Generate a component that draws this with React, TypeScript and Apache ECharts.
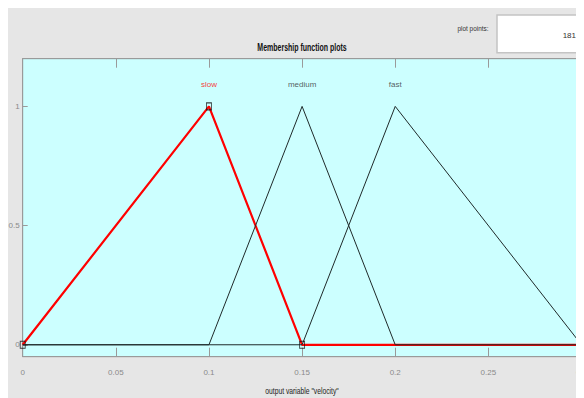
import React, { useEffect, useRef } from "react";
import * as echarts from "echarts";

const xTickValues = [0, 0.05, 0.1, 0.15, 0.2, 0.25, 0.3];
const yTickValues = [0, 0.5, 1];
const yTickLabels = ["0", "0.5", "1"];

const slowPoints = [[0, 0], [0.1, 1], [0.15, 0], [0.3, 0]];
const mediumPoints = [[0, 0], [0.1, 0], [0.15, 1], [0.2, 0], [0.3, 0]];
const fastPoints = [[0, 0], [0.15, 0], [0.2, 1], [0.3, 0]];
const slowVertices = [[0, 0], [0.1, 1], [0.15, 0]];

const mfNames = ["slow", "medium", "fast"];
const mfPeaks = [0.1, 0.15, 0.2];
const labelLevel = 1.09;

const titleText = "Membership function plots";
const xAxisName = 'output variable "velocity"';
const plotPointsLabel = "plot points:";
const plotPointsValue = "181";

const FONT = "'Liberation Sans', Arial, sans-serif";

export default function App() {
  const ref = useRef<HTMLDivElement>(null);
  useEffect(() => {
    document.body.style.overflow = "hidden";
    const chart = echarts.init(ref.current!, null, { renderer: "svg" });
    const gridLeft = 14.7;
    const gridRight = 2.5;
    const gridTop = 50.7;
    const gridBottom = 41.3;
    const yMin = -0.05;
    const yMax = 1.2;
    const H = 390 - gridTop - gridBottom;
    const tickMin = yTickValues[0];
    const tickMax = yTickValues[yTickValues.length - 1];
    // secondary (tick) grid spans exactly the tick range of the data axis
    const tickGridTop = gridTop + ((yMax - tickMax) / (yMax - yMin)) * H;
    const tickGridBottom = gridBottom + ((tickMin - yMin) / (yMax - yMin)) * H;
    const axisGray = "#9a9a9a";
    chart.setOption({
      animation: false,
      backgroundColor: "#e6e6e6",
      grid: [
        {
          left: gridLeft,
          right: gridRight,
          top: gridTop,
          bottom: gridBottom,
          containLabel: false,
          outerBoundsMode: "none",
          show: true,
          backgroundColor: "#ccffff",
          borderColor: axisGray,
          borderWidth: 1,
        },
        {
          left: gridLeft,
          right: gridRight,
          top: tickGridTop,
          bottom: tickGridBottom,
          containLabel: false,
          outerBoundsMode: "none",
          show: false,
        },
      ],
      xAxis: [
        {
          type: "value",
          gridIndex: 0,
          position: "bottom",
          min: 0,
          max: 0.3,
          interval: 0.05,
          splitLine: { show: false },
          axisLine: { show: true, onZero: false, lineStyle: { color: axisGray } },
          axisTick: { show: true, inside: true, length: 9, lineStyle: { color: axisGray } },
          axisLabel: {
            show: true,
            margin: 12,
            color: "#8a8a8a",
            fontFamily: FONT,
            fontSize: 8,
            showMaxLabel: true,
            showMinLabel: true,
            customValues: xTickValues,
            formatter: (v: number) => String(Math.round(v * 100) / 100),
          },
        },
        {
          type: "value",
          gridIndex: 0,
          position: "top",
          min: 0,
          max: 0.3,
          interval: 0.05,
          splitLine: { show: false },
          axisLine: { show: true, onZero: false, lineStyle: { color: axisGray } },
          axisTick: { show: true, inside: true, length: 9, lineStyle: { color: axisGray } },
          axisLabel: { show: false },
        },
        {
          type: "value",
          gridIndex: 1,
          min: 0,
          max: 0.3,
          show: false,
        },
      ],
      yAxis: [
        {
          type: "value",
          gridIndex: 0,
          position: "left",
          min: yMin,
          max: yMax,
          splitLine: { show: false },
          axisLine: { show: true, onZero: false, lineStyle: { color: axisGray } },
          axisTick: { show: false },
          axisLabel: { show: false },
        },
        {
          type: "value",
          gridIndex: 0,
          position: "right",
          min: yMin,
          max: yMax,
          splitLine: { show: false },
          axisLine: { show: true, onZero: false, lineStyle: { color: axisGray } },
          axisTick: { show: false },
          axisLabel: { show: false },
        },
        {
          type: "value",
          gridIndex: 1,
          position: "left",
          min: tickMin,
          max: tickMax,
          interval: 0.5,
          splitLine: { show: false },
          axisLine: { show: false, onZero: false },
          axisTick: { show: true, inside: true, length: 5, lineStyle: { color: axisGray } },
          axisLabel: {
            show: true,
            margin: 3,
            color: "#8a8a8a",
            fontFamily: FONT,
            fontSize: 8,
            formatter: (v: number) => yTickLabels[yTickValues.indexOf(Math.round(v * 10) / 10)] ?? "",
          },
        },
        {
          type: "value",
          gridIndex: 1,
          position: "right",
          min: tickMin,
          max: tickMax,
          interval: 0.5,
          splitLine: { show: false },
          axisLine: { show: false, onZero: false },
          axisTick: { show: true, inside: true, length: 5, lineStyle: { color: axisGray } },
          axisLabel: { show: false },
        },
      ],
      graphic: [
        {
          type: "text",
          x: 294,
          y: 40,
          scaleX: 0.7,
          style: {
            text: titleText,
            fontFamily: FONT,
            fontSize: 10,
            fontWeight: "bold",
            fill: "#111",
            align: "center",
            verticalAlign: "middle",
          },
        },
        {
          type: "text",
          x: 294,
          y: 383,
          scaleX: 0.75,
          style: {
            text: xAxisName,
            fontFamily: FONT,
            fontSize: 9,
            fill: "#222",
            align: "center",
            verticalAlign: "middle",
          },
        },
        {
          type: "rect",
          shape: { x: 489, y: 7, width: 83, height: 37.7 },
          style: { fill: "#ffffff", stroke: "#c4c4c4", lineWidth: 1.5 },
        },
        {
          type: "text",
          x: 465,
          y: 20,
          scaleX: 0.8,
          style: {
            text: plotPointsLabel,
            fontFamily: FONT,
            fontSize: 8,
            fill: "#333",
            align: "center",
            verticalAlign: "middle",
          },
        },
        {
          type: "text",
          x: 568,
          y: 27,
          style: {
            text: plotPointsValue,
            fontFamily: FONT,
            fontSize: 8,
            fill: "#333",
            align: "right",
            verticalAlign: "middle",
          },
        },
      ],
      series: [
        {
          type: "line",
          name: "slow",
          data: slowPoints,
          showSymbol: false,
          symbol: "none",
          lineStyle: { color: "#ff0000", width: 2.2 },
          z: 2,
        },
        {
          type: "line",
          name: "medium",
          data: mediumPoints,
          showSymbol: false,
          symbol: "none",
          lineStyle: { color: "#1f2a2a", width: 1 },
          z: 3,
        },
        {
          type: "line",
          name: "fast",
          data: fastPoints,
          showSymbol: false,
          symbol: "none",
          lineStyle: { color: "#1f2a2a", width: 1 },
          z: 3,
        },
        {
          type: "scatter",
          data: slowVertices,
          symbol: "rect",
          symbolSize: [5, 7],
          itemStyle: { color: "rgba(0,0,0,0)", borderColor: "#111", borderWidth: 1 },
          z: 4,
        },
        {
          type: "scatter",
          data: mfNames.map((n, i) => ({
            name: n,
            value: [mfPeaks[i], labelLevel],
            label: { color: n === "slow" ? "#ff0000" : "#333" },
          })),
          symbolSize: 1,
          itemStyle: { color: "rgba(0,0,0,0)" },
          label: {
            show: true,
            position: "inside",
            formatter: (p: any) => p.name,
            fontFamily: FONT,
            fontSize: 8,
          },
          z: 4,
        },
      ],
    });
    return () => chart.dispose();
  }, []);
  return <div ref={ref} style={{ width: 576, height: 390 }} />;
}
